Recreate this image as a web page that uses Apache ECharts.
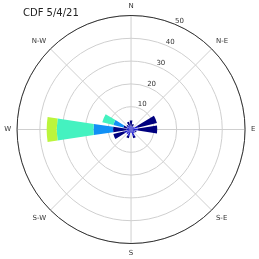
<!DOCTYPE html>
<html>
<head>
<meta charset="utf-8">
<script src="https://cdn.jsdelivr.net/npm/echarts@6/dist/echarts.min.js"></script>
<style>html,body{margin:0;padding:0;background:#fff}#c{width:259px;height:259px}</style>
</head>
<body>
<div id="c"></div>
<script>
var title = 'CDF 5/4/21';
var directions = ['N','NNE','NE','ENE','E','ESE','SE','SSE','S','SSW','SW','WSW','W','WNW','NW','NNW'];
var compassLabels = ['N','N-E','E','S-E','S','S-W','W','N-W'];
var radiusTicks = [10, 20, 30, 40, 50];
var bin0 = [1.5, 1.5, 1.5, 3, 3, 2, 2, 3, 1.5, 3, 2.5, 3, 2, 2, 2, 2];
var bin1 = [2.5, 1, 0, 8.7, 8.5, 0.5, 0, 1, 0, 1, 0, 5, 5.9, 1.5, 0.5, 1.5];
var bin2 = [0, 0, 0, 0, 0, 0, 0, 0, 0, 0, 0, 0, 8.6, 4.5, 0, 0];
var bin3 = [0, 0, 0, 0, 0, 0, 0, 0, 0, 0, 0, 0, 16.1, 5, 0, 0];
var bin4 = [0, 0, 0, 0, 0, 0, 0, 0, 0, 0, 0, 0, 4.4, 0, 0, 0];
var bins = [bin0, bin1, bin2, bin3, bin4];
var colors = ['#1a1ad0', '#00007f', '#1190f5', '#44f2c0', '#bcf53c'];

var center = ['50.6%', '50%'];
var R = 114;
var chart = echarts.init(document.getElementById('c'));
var series = bins.map(function (b, i) {
  return {
    type: 'bar', coordinateSystem: 'polar', polarIndex: 1, stack: 'w',
    data: b, barCategoryGap: '24%', itemStyle: {color: colors[i]}, silent: true, animation: false
  };
});
chart.setOption({
  animation: false,
  title: {text: title, left: 18, top: 3, textStyle: {fontSize: 10, fontWeight: 'normal', color: '#222', fontFamily: 'DejaVu Sans'}},
  polar: [
    {center: center, radius: R},
    {center: center, radius: R},
    {center: center, radius: R}
  ],
  angleAxis: [
    {polarIndex: 0, type: 'value', min: 0, max: 360, interval: 45, startAngle: 90, clockwise: true,
     axisLine: {lineStyle: {color: '#333', width: 1}}, axisTick: {show: false},
     splitLine: {lineStyle: {color: '#cfcfcf', width: 1}},
     axisLabel: {margin: 6, color: '#333', fontSize: 7, fontFamily: 'DejaVu Sans',
       formatter: function (v) { return v >= 360 ? '' : compassLabels[Math.round(v / 45)]; }}},
    {polarIndex: 1, type: 'category', data: directions, startAngle: 90 + 11.25, clockwise: true, show: false},
    {polarIndex: 2, type: 'value', min: 0, max: 360, startAngle: 66, show: false}
  ],
  radiusAxis: [
    {polarIndex: 0, type: 'value', min: 0, max: 50, interval: 10,
     axisLine: {show: false}, axisTick: {show: false}, axisLabel: {show: false},
     splitLine: {lineStyle: {color: '#cfcfcf', width: 1}}},
    {polarIndex: 1, type: 'value', min: 0, max: 50, show: false},
    {polarIndex: 2, type: 'value', min: 0, max: 50, interval: 10,
     axisLine: {show: false}, axisTick: {show: false}, splitLine: {show: false},
     axisLabel: {margin: 0, align: 'center', verticalAlign: 'middle',
       rich: {t: {padding: [0, 0, 8, 4], color: '#333', fontSize: 7, fontFamily: 'DejaVu Sans'}},
       formatter: function (v) { return radiusTicks.indexOf(v) >= 0 ? '{t|' + v + '}' : ''; }}}
  ],
  series: series
});
</script>
</body>
</html>
